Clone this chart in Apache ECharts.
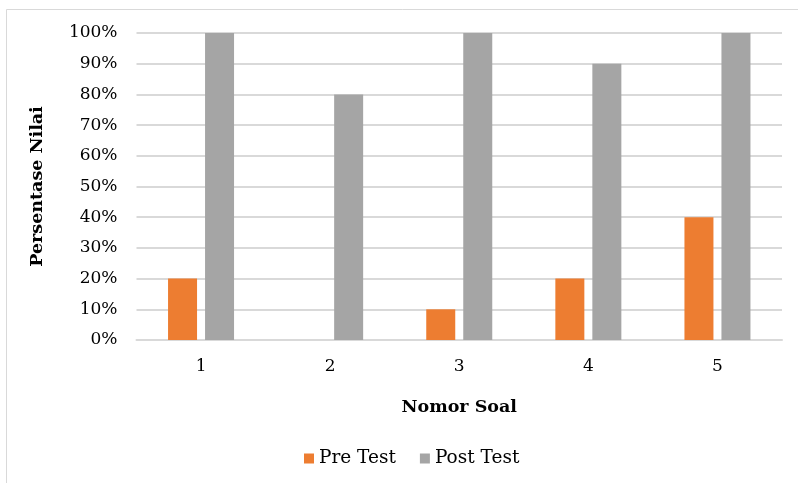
<!DOCTYPE html>
<html><head><meta charset="utf-8">
<script src="https://cdn.jsdelivr.net/npm/echarts@6/dist/echarts.min.js"></script>
<style>html,body{margin:0;padding:0;background:#fff}#c{width:798px;height:483px}</style>
</head><body><div id="c"></div>
<script>
const categories = ['1', '2', '3', '4', '5'];
const preTest = [20, 0, 10, 20, 40];
const postTest = [100, 80, 100, 90, 100];
const yTicks = [0, 10, 20, 30, 40, 50, 60, 70, 80, 90, 100];

const font = 'DejaVu Serif';
const chart = echarts.init(document.getElementById('c'), null, {renderer: 'canvas'});
chart.setOption({
  animation: false,
  backgroundColor: '#fff',
  graphic: [
    {type: 'line', shape: {x1: 6.5, y1: 9.5, x2: 798, y2: 9.5}, style: {stroke: '#d9d9d9', lineWidth: 1}},
    {type: 'line', shape: {x1: 6.5, y1: 9.5, x2: 6.5, y2: 483}, style: {stroke: '#d9d9d9', lineWidth: 1}}
  ],
  grid: {left: 136.5, right: 16, top: 33, bottom: 143, containLabel: false},
  legend: {
    data: ['Pre Test', 'Post Test'],
    left: 299, top: 444,
    itemWidth: 10, itemHeight: 10, itemGap: 24,
    icon: 'rect',
    textStyle: {fontFamily: font, fontSize: 18.5, color: '#000'}
  },
  xAxis: {
    type: 'category',
    data: categories,
    name: 'Nomor Soal',
    nameLocation: 'middle',
    nameGap: 58,
    nameTextStyle: {fontFamily: font, fontSize: 17.5, fontWeight: 'bold', color: '#000'},
    axisLine: {show: true, lineStyle: {color: '#d9d9d9', width: 2}},
    axisTick: {show: false},
    axisLabel: {fontFamily: font, fontSize: 17, color: '#000', margin: 18}
  },
  yAxis: {
    type: 'value',
    min: 0, max: 100, interval: 10,
    name: 'Persentase Nilai',
    nameLocation: 'middle',
    nameGap: 90,
    nameTextStyle: {fontFamily: font, fontSize: 17.5, fontWeight: 'bold', color: '#000'},
    axisLine: {show: false},
    axisTick: {show: false},
    splitLine: {lineStyle: {color: '#d9d9d9', width: 2}},
    axisLabel: {fontFamily: font, fontSize: 17, color: '#000', margin: 19,
      formatter: v => yTicks.includes(v) ? v + '%' : ''}
  },
  series: [
    {name: 'Pre Test', type: 'bar', data: preTest, barWidth: 29, barGap: '27.6%',
      itemStyle: {color: '#ED7D31'}},
    {name: 'Post Test', type: 'bar', data: postTest, barWidth: 29,
      itemStyle: {color: '#A5A5A5'}}
  ]
});
</script></body></html>
